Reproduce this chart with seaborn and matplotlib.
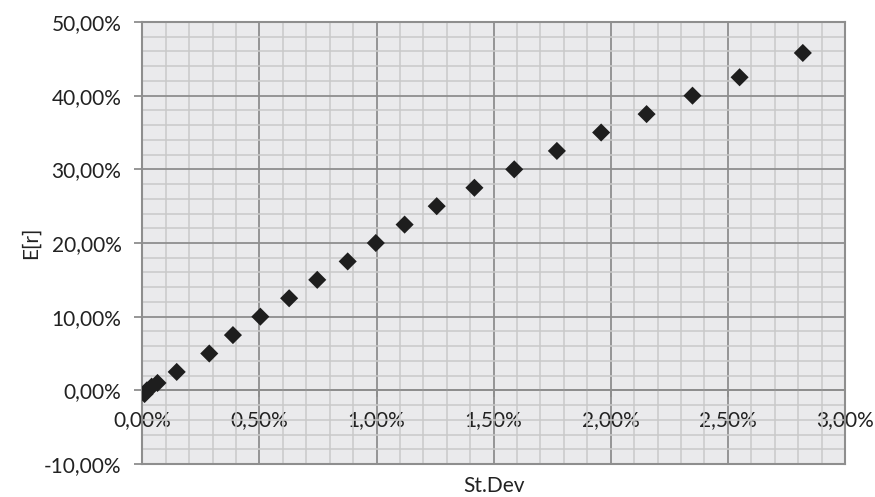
import matplotlib
matplotlib.use("Agg")
import matplotlib.pyplot as plt
import matplotlib.ticker as mticker
import seaborn as sns
import pandas as pd

# Data (percent units)
st_dev = [0.01, 0.02, 0.04, 0.065, 0.147, 0.286, 0.387, 0.504, 0.627, 0.747,
          0.877, 0.997, 1.12, 1.257, 1.418, 1.588, 1.770, 1.959, 2.153, 2.349,
          2.55, 2.82]
exp_ret = [-0.5, 0.0, 0.5, 1.0, 2.5, 5.0, 7.5, 10.0, 12.5, 15.0,
           17.5, 20.0, 22.5, 25.0, 27.5, 30.0, 32.5, 35.0, 37.5, 40.0,
           42.5, 45.8]
x_ticks = [0.0, 0.5, 1.0, 1.5, 2.0, 2.5, 3.0]
y_ticks = [-10, 0, 10, 20, 30, 40, 50]

df = pd.DataFrame({"St.Dev": st_dev, "E[r]": exp_ret})

sns.set_style("white")
plt.rcParams["font.family"] = ["Lato", "DejaVu Sans"]

fig = plt.figure(figsize=(8.75, 4.97), dpi=100)
ax = fig.add_axes([0.1626, 0.0664, 0.8031, 0.8893])
ax.set_facecolor("#eaeaec")

sns.scatterplot(data=df, x="St.Dev", y="E[r]", marker="D", s=85,
                color="#1e1e1e", edgecolor="none", ax=ax, zorder=5)

def pct(v, pos=None):
    return f"{v:.2f}%".replace(".", ",")

FS = 15
TC = "#222222"

ax.set_xlim(0, 3)
ax.set_ylim(-10, 50)
ax.set_xticks(x_ticks)
ax.set_yticks(y_ticks)
ax.xaxis.set_minor_locator(mticker.MultipleLocator(0.1))
ax.yaxis.set_minor_locator(mticker.MultipleLocator(2))
ax.yaxis.set_major_formatter(mticker.FuncFormatter(pct))
ax.set_axisbelow(True)
ax.grid(which="major", color="#8e8e8e", linewidth=1.3)
ax.grid(which="minor", color="#c9c9c9", linewidth=1.1)

for sp in ax.spines.values():
    sp.set_color("#8e8e8e")
    sp.set_linewidth(1.5)

ax.tick_params(axis="x", which="both", bottom=False, labelbottom=False)
ax.tick_params(axis="y", which="major", left=True, length=6, width=1.3,
               color="#8e8e8e", labelsize=FS, labelcolor=TC, pad=9)
ax.tick_params(axis="y", which="minor", left=False)

sec = ax.secondary_xaxis(1 / 6)
sec.set_xticks(x_ticks)
sec.xaxis.set_major_formatter(mticker.FuncFormatter(pct))
sec.spines["bottom"].set_color("#8e8e8e")
sec.spines["bottom"].set_linewidth(1.3)
sec.tick_params(axis="x", which="major", length=5, width=1.3, color="#8e8e8e",
                labelsize=FS, labelcolor=TC, pad=9)

ax.set_xlabel("St.Dev", fontsize=FS, color=TC, labelpad=9)
ax.set_ylabel("E[r]", fontsize=FS, color=TC, labelpad=2)

fig.savefig("out.png", dpi=100, facecolor="white")
